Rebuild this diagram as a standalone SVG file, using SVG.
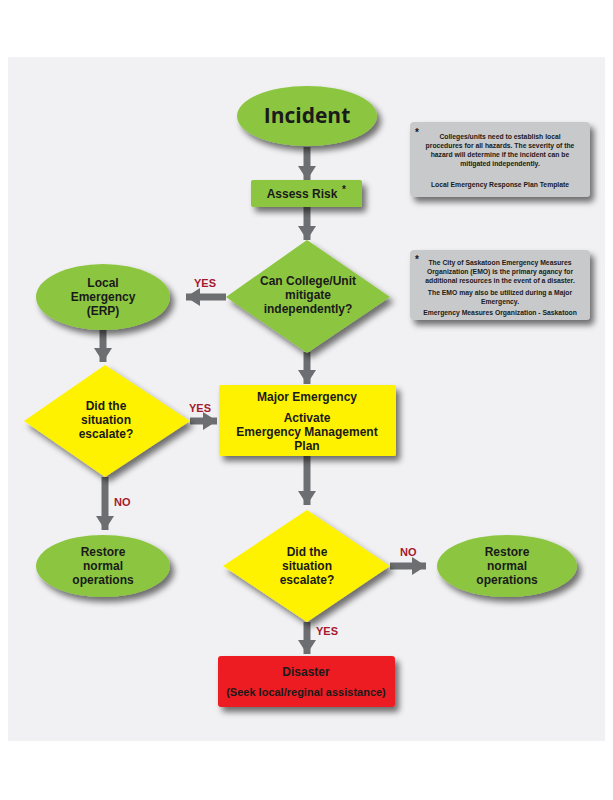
<svg xmlns="http://www.w3.org/2000/svg" width="613" height="800" viewBox="0 0 613 800">
<defs>
<filter id="sh" x="-20%" y="-20%" width="150%" height="160%">
<feGaussianBlur in="SourceAlpha" stdDeviation="3"/>
<feOffset dx="4" dy="5" result="b"/>
<feComponentTransfer><feFuncA type="linear" slope="0.55"/></feComponentTransfer>
<feMerge><feMergeNode/><feMergeNode in="SourceGraphic"/></feMerge>
</filter>
<marker id="ah" markerUnits="userSpaceOnUse" markerWidth="18" markerHeight="18" refX="14" refY="9" orient="auto">
<path d="M0,0 L14,9 L0,18 Z" fill="#6d6e71"/>
</marker>
</defs>
<style>
.g{fill:#8cc63f}
.y{fill:#fff200}
.r{fill:#ed1c24}
.n{fill:#c8c9cb}
.t{font-family:"Liberation Sans",Arial,sans-serif;font-weight:bold;fill:#1a1a1a;text-anchor:middle;font-size:12px}
.big{font-family:"Open Sans","Liberation Sans",sans-serif;font-size:21px}
.lab{font-family:"Liberation Sans",Arial,sans-serif;font-weight:bold;fill:#a6192e;font-size:11px}
.nt{font-family:"Liberation Sans",Arial,sans-serif;font-weight:bold;fill:#1a1a1a;text-anchor:middle;font-size:6.8px}
.c{stroke:#6d6e71;stroke-width:7;fill:none;marker-end:url(#ah)}
</style>
<rect x="0" y="0" width="613" height="800" fill="#ffffff"/>
<rect x="8" y="57" width="597" height="684" fill="#f1f1f3"/>

<g id="connectors">
<path class="c" d="M307,147 V180"/>
<path class="c" d="M307,207 V240"/>
<path class="c" d="M226,297 H186"/>
<path class="c" d="M103,330 V362"/>
<path class="c" d="M307,352 V384"/>
<path class="c" d="M190,421 H217"/>
<path class="c" d="M105,477 V530"/>
<path class="c" d="M307,456 V505"/>
<path class="c" d="M390,566 H426"/>
<path class="c" d="M307,622 V654"/>
<text class="lab" x="194" y="287">YES</text>
<text class="lab" x="189" y="412">YES</text>
<text class="lab" x="114" y="506">NO</text>
<text class="lab" x="400" y="556">NO</text>
<text class="lab" x="316" y="635">YES</text>
</g>

<g id="incident">
<ellipse class="g" cx="307" cy="116" rx="70" ry="30" filter="url(#sh)"/>
<text class="t big" x="307" y="123">Incident</text>
</g>

<g id="assess">
<rect class="g" x="251" y="180" width="111" height="27" rx="2" filter="url(#sh)"/>
<text class="t" x="302" y="198">Assess Risk</text>
<text class="t" x="344" y="193" style="font-size:10px">*</text>
</g>

<g id="note1">
<rect class="n" x="410" y="122" width="180" height="75" rx="4" filter="url(#sh)"/>
<text class="t" x="417" y="136" style="font-size:10px">*</text>
<text class="nt" x="500" y="139">Colleges/units need to establish local</text>
<text class="nt" x="500" y="148">procedures for all hazards.  The severity of the</text>
<text class="nt" x="500" y="157">hazard will determine if the incident can be</text>
<text class="nt" x="500" y="166">mitigated independently.</text>
<text class="nt" x="500" y="187">Local Emergency Response Plan Template</text>
</g>

<g id="note2">
<rect class="n" x="410" y="250" width="180" height="70" rx="4" filter="url(#sh)"/>
<text class="t" x="417" y="263" style="font-size:10px">*</text>
<text class="nt" x="500" y="265">The City of Saskatoon Emergency Measures</text>
<text class="nt" x="500" y="274">Organization (EMO) is the primary agancy for</text>
<text class="nt" x="500" y="283">additional resources in the event of a disaster.</text>
<text class="nt" x="500" y="295">The EMO may also be utilized during a Major</text>
<text class="nt" x="500" y="304">Emergency.</text>
<text class="nt" x="500" y="315">Emergency Measures Organization - Saskatoon</text>
</g>

<g id="decision1">
<path class="g" d="M307,240 L390,297 L307,353 L226,297 Z" filter="url(#sh)"/>
<text class="t" x="308" y="285">Can College/Unit</text>
<text class="t" x="308" y="299">mitigate</text>
<text class="t" x="308" y="313">independently?</text>
</g>

<g id="local">
<ellipse class="g" cx="103" cy="297" rx="67" ry="33" filter="url(#sh)"/>
<text class="t" x="103" y="287">Local</text>
<text class="t" x="103" y="301">Emergency</text>
<text class="t" x="103" y="315">(ERP)</text>
</g>

<g id="decision2">
<path class="y" d="M105,365 L190,421 L105,477 L24,421 Z" filter="url(#sh)"/>
<text class="t" x="106" y="410">Did the</text>
<text class="t" x="106" y="424">situation</text>
<text class="t" x="106" y="438">escalate?</text>
</g>

<g id="major">
<rect class="y" x="219" y="385" width="177" height="71" rx="2" filter="url(#sh)"/>
<text class="t" x="307" y="401">Major Emergency</text>
<text class="t" x="307" y="422">Activate</text>
<text class="t" x="307" y="436">Emergency Management</text>
<text class="t" x="307" y="450">Plan</text>
</g>

<g id="restore1">
<ellipse class="g" cx="103" cy="566" rx="67" ry="31" filter="url(#sh)"/>
<text class="t" x="103" y="556">Restore</text>
<text class="t" x="103" y="570">normal</text>
<text class="t" x="103" y="584">operations</text>
</g>

<g id="decision3">
<path class="y" d="M307,510 L390,566 L307,622 L223,566 Z" filter="url(#sh)"/>
<text class="t" x="307" y="556">Did the</text>
<text class="t" x="307" y="570">situation</text>
<text class="t" x="307" y="584">escalate?</text>
</g>

<g id="restore2">
<ellipse class="g" cx="507" cy="566" rx="70" ry="31" filter="url(#sh)"/>
<text class="t" x="507" y="556">Restore</text>
<text class="t" x="507" y="570">normal</text>
<text class="t" x="507" y="584">operations</text>
</g>

<g id="disaster">
<rect class="r" x="218" y="656" width="177" height="51" rx="3" filter="url(#sh)"/>
<text class="t" x="306" y="676" style="font-size:12px">Disaster</text>
<text class="t" x="306" y="696" style="font-size:11px">(Seek local/reginal assistance)</text>
</g>
</svg>
